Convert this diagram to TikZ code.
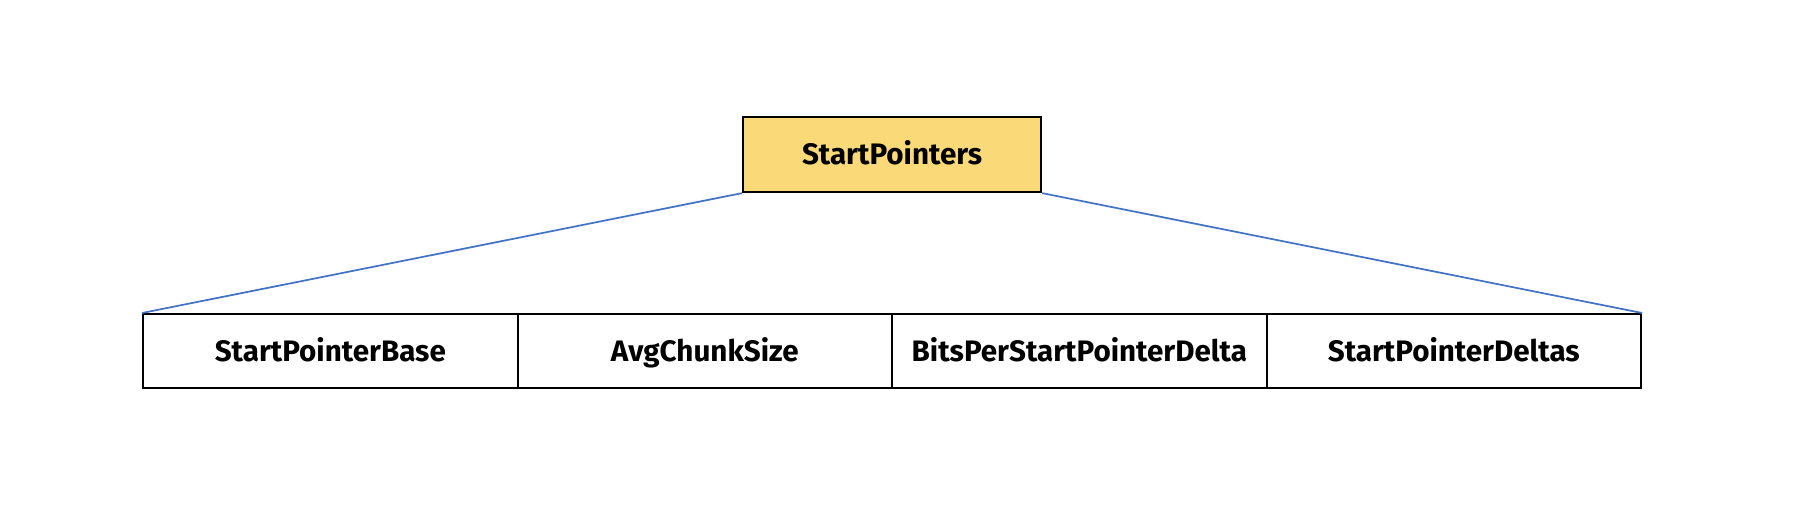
\documentclass[tikz,border=0pt]{standalone}
\usepackage{fontspec}
\setmainfont{Fira Sans}
\begin{document}
\begin{tikzpicture}[x=0.75pt,y=-0.75pt,
  box/.style={draw=black,line width=1.6pt,inner sep=0pt,text height=17.5pt,text depth=2pt,font=\fontsize{22.2}{26}\selectfont\bfseries},
  cell/.style={box,minimum width=374.5*0.75pt,minimum height=74*0.75pt,anchor=north west},
  link/.style={draw={rgb,255:red,68;green,114;blue,196},line width=1.3pt}]
\useasboundingbox (0,0) rectangle (1814,510);
\node[box,fill={rgb,255:red,249;green,217;blue,120},minimum width=298*0.75pt,minimum height=75*0.75pt,anchor=north west] (top) at (742,116) {StartPointers};
\node[cell] (c1) at (142,313) {StartPointerBase};
\node[cell] (c2) at (516.5,313) {AvgChunkSize};
\node[cell] (c3) at (891,313) {BitsPerStartPointerDelta};
\node[cell] (c4) at (1265.5,313) {StartPointerDeltas};
\draw[link] (top.south west) -- (c1.north west);
\draw[link] (top.south east) -- (c4.north east);
\end{tikzpicture}
\end{document}
